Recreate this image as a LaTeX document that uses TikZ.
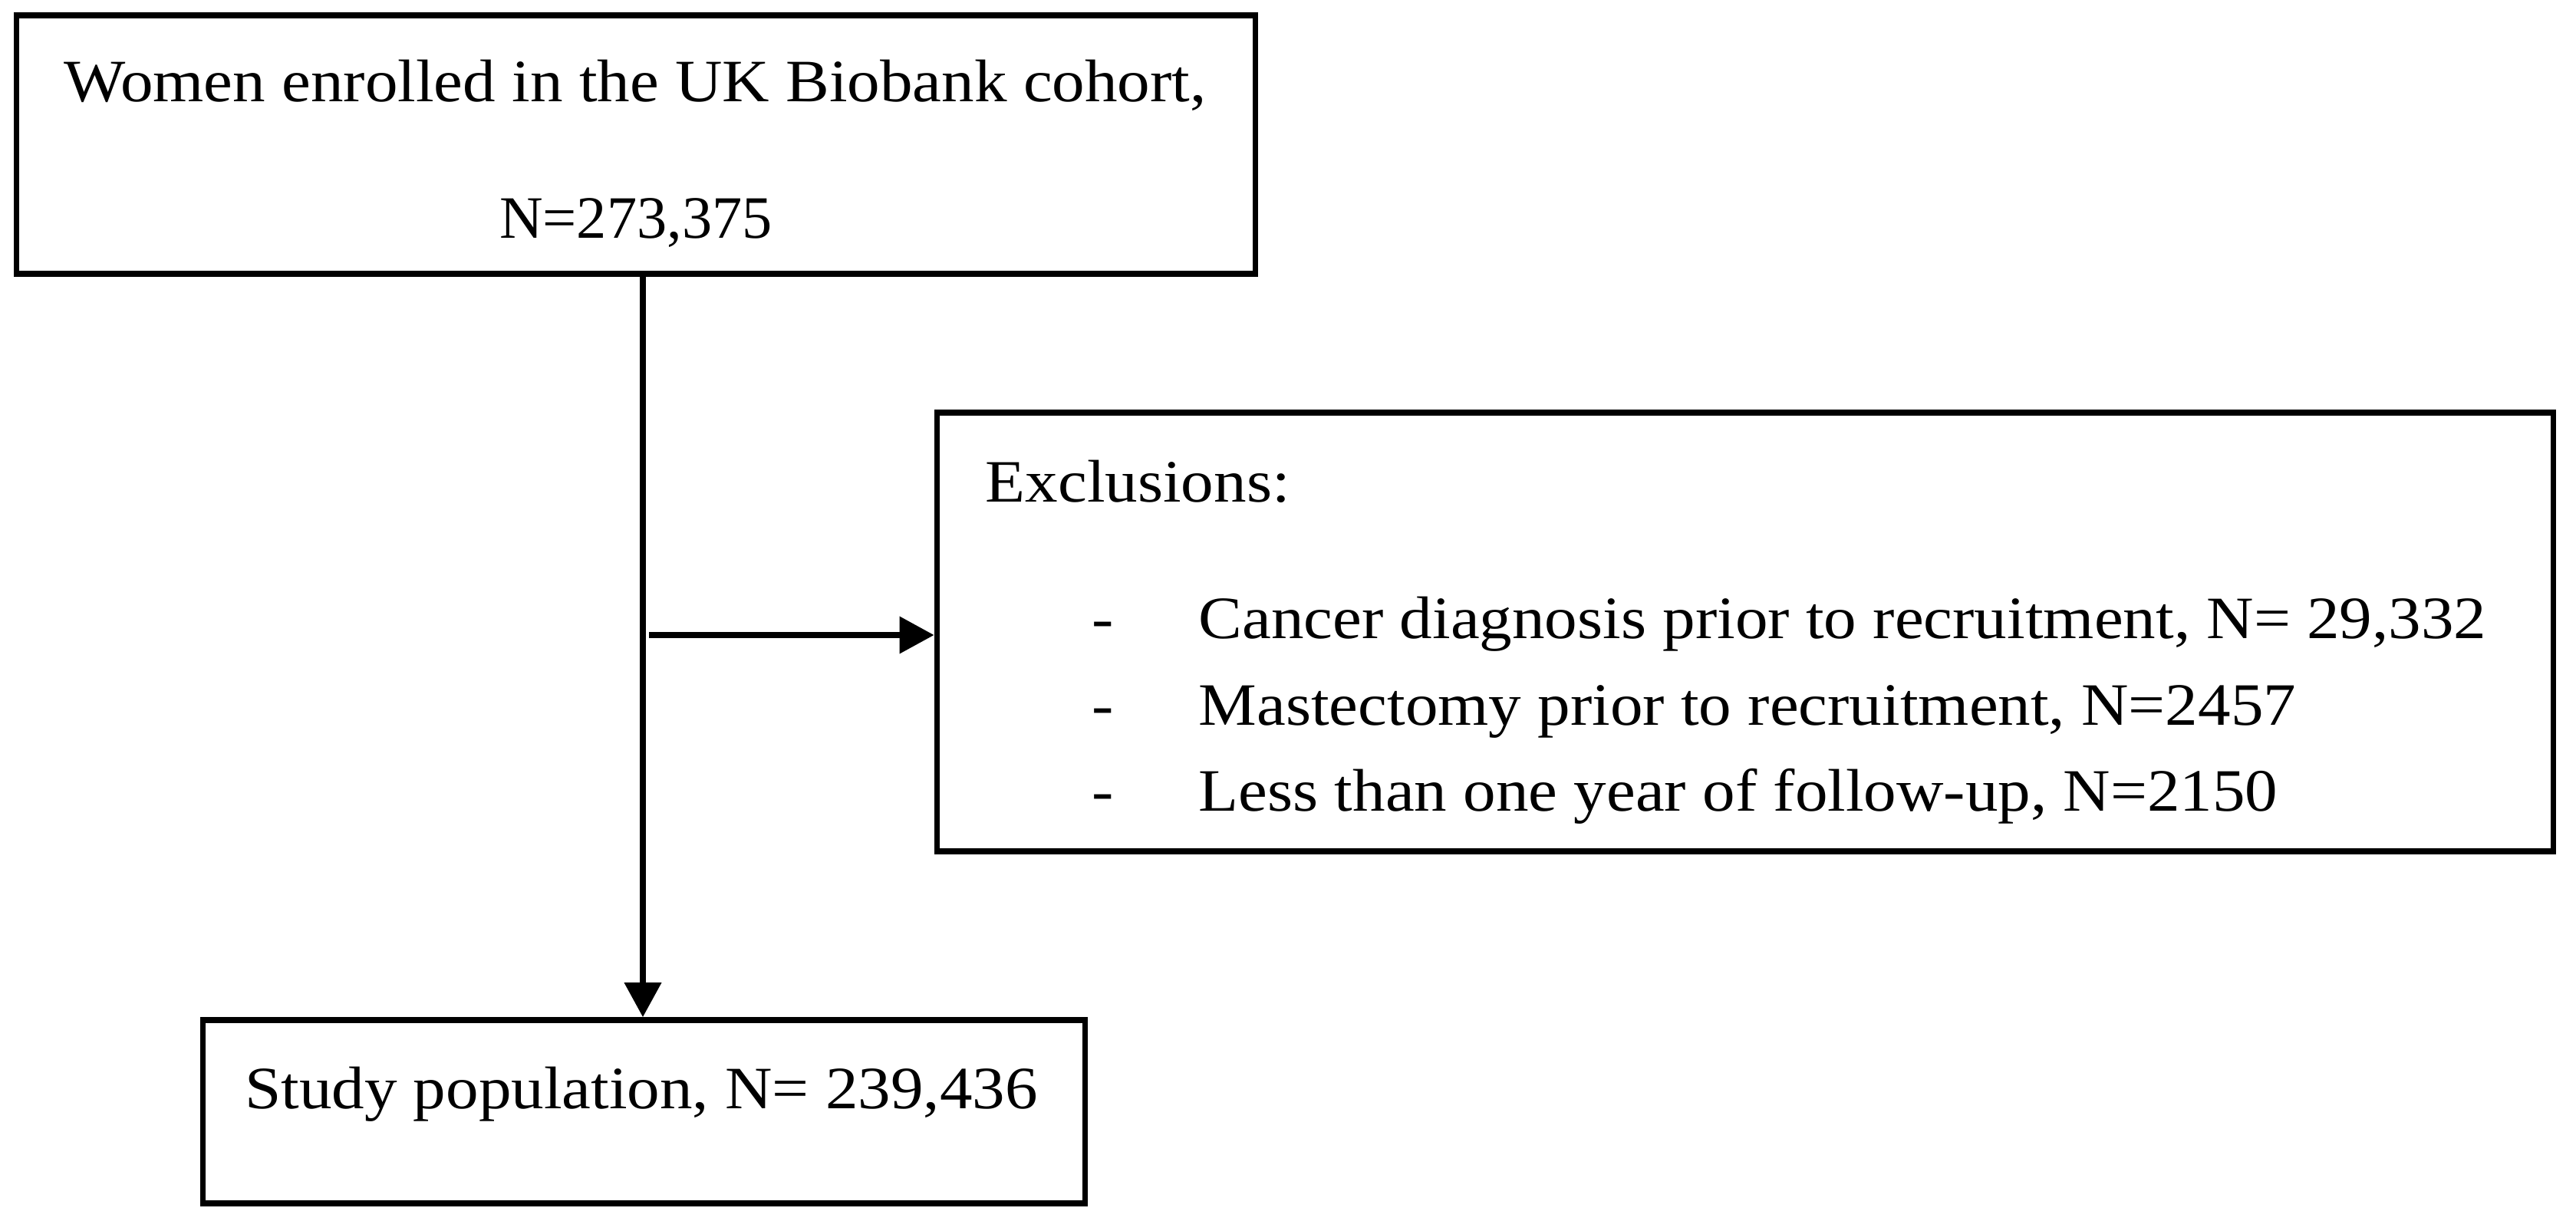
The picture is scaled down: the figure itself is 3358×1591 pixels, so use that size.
\documentclass[tikz,border=0pt]{standalone}
\usepackage{fontspec}
\setmainfont{Liberation Serif}[FakeStretch=1.085]
\newfontfamily\plainserif{Liberation Serif}
\usetikzlibrary{arrows.meta}
\tikzset{
  boxnode/.style={draw, line width=2.15pt, rectangle, inner sep=0pt},
  txt/.style={inner sep=0pt, font=\fontsize{22.3pt}{32pt}\selectfont},
  conn/.style={line width=2.05pt, -{Triangle[length=0.45cm,width=0.47cm]}}
}
\begin{document}
\begin{tikzpicture}[x=0.01cm,y=-0.01cm]
\useasboundingbox (0,0) rectangle (3358,1591);
% boxes
\node[boxnode, minimum width=16.14cm, minimum height=3.37cm] (top) at (829,188.5) {};
\node[boxnode, minimum width=21.06cm, minimum height=5.72cm] (excl) at (2275,824) {};
\node[boxnode, minimum width=11.49cm, minimum height=2.39cm] (study) at (839.5,1449.5) {};
% texts
\node[txt, anchor=base west] (t1) at (83,133) {Women enrolled in the UK Biobank cohort,};
\node[txt, anchor=base] (t2) at (829,310) {\plainserif N=273,375};
\node[txt, anchor=base west] (e0) at (1284,654) {Exclusions:};
\node[txt, anchor=base west] (d1) at (1423,832) {-};
\node[txt, anchor=base west] (d2) at (1423,945) {-};
\node[txt, anchor=base west] (d3) at (1423,1057) {-};
\node[txt, anchor=base west] (e1) at (1562,832) {Cancer diagnosis prior to recruitment, N= 29,332};
\node[txt, anchor=base west] (e2) at (1562,945) {Mastectomy prior to recruitment, N=2457};
\node[txt, anchor=base west] (e3) at (1562,1057) {Less than one year of follow-up, N=2150};
\node[txt, anchor=base] (s1) at (836,1445) {Study population, N= 239,436};
% connectors
\draw[conn] (top.south -| 838,0) -- (study.north -| 838,0);
\coordinate (hs) at (846,828);
\draw[conn] (hs) -- (hs -| excl.west);
\end{tikzpicture}
\end{document}
